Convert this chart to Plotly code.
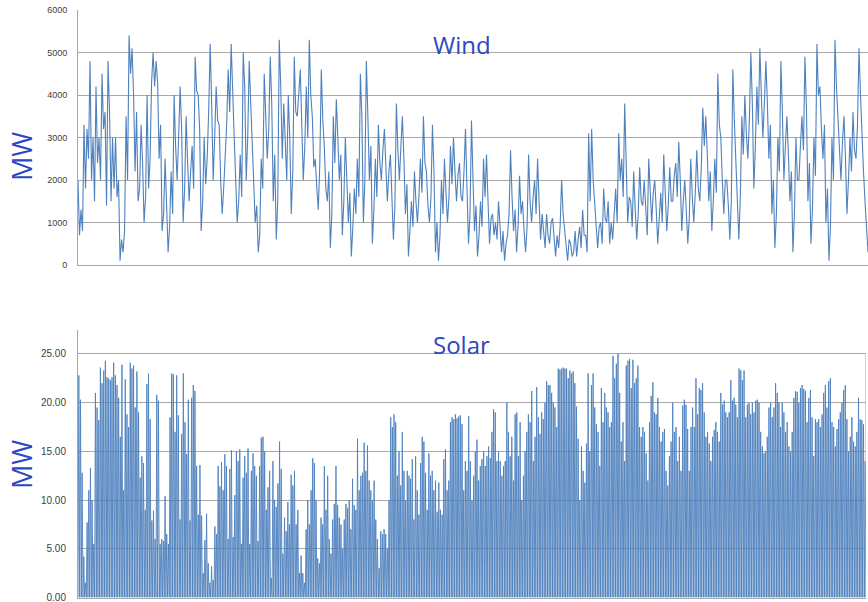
import numpy as np
import plotly.graph_objects as go

# ---------------- data ----------------
# Wind output, MW, successive readings along the year (four consecutive stretches)
wind_part1 = [2000, 700, 1300, 800, 3300, 1800, 3200, 2500, 4800, 2000, 3000, 1500,
              4200, 2400, 3000, 2000, 4500, 3200, 3600, 1400, 4800, 3600, 1500, 3000,
              1800, 3000, 1600, 2000, 100, 600, 300, 800, 3500, 2000, 5400, 4500,
              5100, 4000, 2200, 3600, 1500, 1800, 3300, 2400, 1000, 1600, 4000, 1800,
              2500, 4300, 5000, 4200, 4800, 4300, 2500, 3300, 800, 1200, 2500, 1300,
              300, 900, 2200, 1200, 4000, 2800, 2000, 3000, 4200, 3200, 1000, 1800,
              3500, 2400, 1500, 2200, 2800, 1800, 4900, 4100, 4000, 3200, 800, 1500,
              3000, 1900, 2500, 3600, 5200, 3800, 2000, 3000, 4200, 3400, 3300, 2000,
              1200, 1800, 2500, 3300, 4600, 3600, 5200, 4300, 3000, 2000, 1000, 1500,
              2600, 1600, 5000, 4200, 2000, 3000, 4800, 3800, 3000, 1800, 1000, 1400,
              300, 700, 2500, 1800, 4500, 3500]
wind_part2 = [2500, 3200, 4900, 3800, 1500, 2600, 600, 1500, 5300, 4200, 2500, 3800,
              3000, 2000, 4000, 3000, 1200, 2200, 4900, 3600, 3500, 4200, 4600, 3300,
              2000, 2800, 4200, 3000, 5300, 4000, 3500, 2300, 2500, 1800, 1300, 2400,
              4600, 3400, 2800, 1800, 1500, 2200, 400, 1200, 3500, 2400, 3900, 3000,
              2000, 2600, 700, 1500, 3000, 2000, 1000, 1700, 200, 900, 1800, 1200,
              2500, 1600, 4500, 3500, 1000, 2000, 4800, 3500, 2000, 2800, 500, 1300,
              2500, 1600, 3300, 2400, 2000, 2700, 3200, 2300, 1500, 2200, 2600, 1600,
              600, 1400, 3800, 2700, 2000, 2800, 3500, 2500, 1200, 1900, 200, 800,
              1500, 900, 2200, 1500, 1000, 1600, 2500, 1700, 3500, 2400, 2200, 1400,
              1000, 1600, 3300, 2200, 300, 1000, 100, 700, 2000, 1200, 2500, 1700,
              1000, 1600, 2800, 1900, 3000, 2200, 1500, 2100, 2400, 1600]
wind_part3 = [1500, 2200, 3200, 1800, 500, 1200, 3400, 2000, 800, 1400, 200, 700,
              1500, 900, 2500, 1600, 2600, 1500, 500, 1100, 1200, 700, 1000, 600,
              1500, 900, 300, 800, 100, 500, 700, 1200, 2700, 1600, 800, 1300,
              300, 900, 2100, 1200, 1500, 800, 300, 900, 2600, 1500, 1000, 1600,
              2000, 1200, 2500, 1500, 600, 1200, 800, 400, 1200, 700, 500, 1000,
              1100, 600, 200, 700, 400, 900, 2000, 1200, 800, 300, 100, 600,
              500, 200, 300, 800, 200, 600, 900, 400, 1300, 700, 700, 300,
              3100, 1500, 3200, 2000, 1500, 800, 400, 900, 1000, 500, 1800, 1100,
              1000, 1500, 500, 1000, 600, 1200, 1800, 1000, 3100, 2000, 2500, 1600,
              3800, 2400, 1000, 1600, 1500, 900, 2200, 1300, 600, 1200, 2300, 1500,
              1400, 2000, 1200, 700, 2500, 1600, 1000, 1700, 2000, 1300, 500, 1100,
              1700, 1000]
wind_part4 = [2600, 1700, 800, 1400, 2300, 1500, 1500, 2100, 2400, 1600, 2900, 2000,
              800, 1500, 2000, 1300, 500, 1100, 2500, 1600, 1000, 1700, 2700, 1800,
              1500, 2300, 3700, 2800, 3500, 2600, 1500, 2200, 800, 1500, 2500, 1700,
              4500, 3300, 3000, 2000, 1200, 2000, 2000, 1400, 600, 1500, 4600, 3400,
              2500, 1500, 600, 1600, 3500, 2600, 4000, 3100, 2500, 3400, 5000, 3800,
              1800, 2800, 4200, 3300, 5100, 4000, 3000, 3800, 4800, 3800, 2500, 3300,
              1200, 2000, 400, 1200, 3000, 2200, 4800, 3600, 2000, 2800, 3500, 2600,
              1500, 2200, 300, 1200, 3000, 2000, 2000, 2800, 3500, 2700, 4900, 3700,
              1500, 2400, 500, 1300, 3000, 2100, 5200, 4000, 4200, 3200, 2500, 3300,
              1000, 1800, 100, 900, 3000, 2000, 5300, 4200, 3500, 2600, 2000, 2900,
              3500, 2500, 1200, 2000, 3000, 2200, 3600, 2700, 2500, 3300, 5100, 4000,
              3000, 2200, 1500, 800, 300]

# Solar: daily peak output, MW (night output is zero)
solar_part1 = [22.8, 20.3, 12.8, 4.2, 1.5, 7.7, 11, 13.3, 10, 5.5, 21, 19.5, 18.2,
               23.6, 22, 23.3, 24.3, 22.6, 22.5, 22.3, 22.6, 24.1, 22.8, 21.8, 20.5,
               16.5, 23.9, 11, 22.4, 18.8, 17.5, 24.1, 23.5, 23.8, 19.5, 23.2, 19,
               12.3, 14.5, 13.8, 9, 21.9, 23, 18.3, 7.9, 8.9, 6, 20.8, 20.2, 5.5, 6,
               5.8, 10.4, 6.5, 5.5, 18.5, 23, 22.9, 17, 22.8, 18.7, 8, 16.8, 23, 18,
               14.7, 20.3, 7.9, 20.5, 21.8, 21.2, 13.5, 8.5, 13.6, 8.4, 2.5, 5.9, 8.6,
               3.5, 1.5, 3.2, 1.8, 7.3, 6.5, 13.5, 11.4, 13.9, 11, 14.7, 13.5, 6,
               13.2, 15.1, 6.2, 10.5, 15, 14, 15.2, 5.5, 12.3, 14.5, 12.8, 15.3, 5.5,
               13, 14.8, 13.5, 12.5, 5.8, 13.5, 16.4, 16.5, 15, 9, 11.3, 13, 2, 14,
               10, 9.3, 11.7, 16, 13.2, 4.5, 8.2, 6.8, 9.8, 7.5, 12.6, 11.5, 13, 7.5,
               9, 2.5, 4.3]
solar_part2 = [2.5, 1.5, 7, 10, 7.5, 11, 14.3, 13.8, 10, 4, 3.5, 8.2, 7.5, 13.5, 9,
               12.5, 6, 4.5, 8, 9.6, 13.5, 9.5, 8.2, 7.5, 5, 8, 9.6, 9.2, 10, 7,
               12.2, 9.5, 9, 16.3, 11, 12.5, 12.8, 15.9, 13, 15.6, 12, 11, 10, 12, 8,
               6, 3, 6.8, 6.5, 7, 6.5, 5, 10, 18.5, 17.5, 18.8, 18, 12.5, 15, 11.5,
               17, 13, 10, 13, 12.5, 12.2, 14.2, 8, 14.5, 11, 8.5, 13.8, 16.5, 16,
               12.8, 9, 14.8, 12.5, 13, 11, 12, 8.8, 11.8, 9, 8.5, 14.2, 15.2, 11, 12,
               18, 18.5, 18.3, 18.8, 18.4, 18.6, 18.7, 17.8, 11, 14, 13, 18.6, 14, 10,
               12.5, 15, 16.2, 12, 13.5, 14.2, 15, 13.5, 14.5, 15.5, 14.3, 17, 19.3,
               19, 14, 15, 14, 12.5, 13.5, 14, 20, 17, 14.5, 16.5, 12, 18.8, 19, 14.5,
               18, 10, 12.5, 15, 17, 18.8, 18, 21.2, 14, 16.5, 21.6, 18.5, 16.8, 19,
               18.3, 20, 22.2, 21.8, 21.8, 21, 20, 19.5, 17.5, 23.5, 23.4, 23.5, 23.6,
               23.5, 23.5, 22.5, 23.3, 23, 23.2, 22, 19.6, 16.3, 10]
solar_part3 = [15.5, 13, 11.8, 15.8, 23, 15, 21.8, 23, 19.5, 17.8, 17, 13.5, 21.5,
               18, 21, 19.5, 19, 17.5, 18, 24.8, 22.5, 24, 25, 21, 16, 18, 14, 23.8,
               24.3, 24.5, 21.5, 24.4, 22, 22.5, 23.8, 17.5, 16.5, 17.5, 17, 14.8, 12,
               18, 20.7, 22.1, 19, 18.8, 20.5, 17.5, 16, 17, 17.3, 13, 11.5, 14.5, 16,
               20, 17, 17.5, 14, 16.5, 13, 19.7, 20.3, 19.8, 17.3, 13, 17.5, 19.5,
               17.5, 22.5, 18.8, 21.5, 21.3, 22, 19, 16.5, 17, 15.8, 14, 16.5, 17.2,
               18, 17, 16, 21, 19.8, 20.2, 19, 18.5, 19, 22.3, 20.2, 20.5, 19.8, 18.5,
               23.5, 23.3, 22.3, 23.3, 18.5, 19.8, 20, 18.8, 20, 19, 20.2, 20.3, 20,
               17, 15.5, 14.8, 15, 16.5, 19.5, 20, 18.5, 19.5, 22, 21, 20, 17.5, 20,
               19, 17, 18, 15.5, 15, 17, 20.5, 21.2, 21.1, 20, 21.5, 21.8, 21.4, 21.2,
               18, 20.5, 21.3, 18.5, 14.5, 18.3, 18, 18.3, 17.5, 18.8, 21, 21.8, 19.5,
               22.2, 22.5, 18, 17.5, 15.5, 17.3, 18.3, 19, 20, 21.3, 21.8, 18.3, 15,
               16.5, 18.5, 16, 15.5, 17, 20.5, 18.3, 18.2, 17.8, 14]

wind_ticks = [0, 1000, 2000, 3000, 4000, 5000, 6000]
solar_ticks = [0, 5, 10, 15, 20, 25]

# ---------------- build ----------------
W, H = 868, 602
HOURS = 8760
wind_mw = wind_part1 + wind_part2 + wind_part3 + wind_part4
wind_hour = np.linspace(0, HOURS, len(wind_mw))

solar_peak = solar_part1 + solar_part2 + solar_part3
n = len(solar_peak)
solar_mw = np.zeros(2 * n + 1)
solar_mw[1::2] = solar_peak
solar_hour = np.linspace(0, HOURS, 2 * n + 1)

BLUE = "#4f81bd"
GRID = "#a8a8a8"
TXT = "#2a48c4"

def px(x):
    return x / W

def py(y):
    return 1 - y / H

fig = go.Figure()
fig.add_trace(go.Scatter(x=wind_hour, y=wind_mw, mode="lines",
                         line=dict(color=BLUE, width=1.1), xaxis="x", yaxis="y",
                         showlegend=False, hoverinfo="skip"))
fig.add_trace(go.Scatter(x=solar_hour, y=solar_mw, mode="lines",
                         line=dict(color=BLUE, width=0.9), xaxis="x2", yaxis="y2",
                         showlegend=False, hoverinfo="skip"))

axis_common = dict(showgrid=False, zeroline=False, showticklabels=False,
                   showline=True, linecolor=GRID, linewidth=1, ticks="",
                   automargin=False)
label = dict(xref="paper", yref="paper", showarrow=False,
             xanchor="center", yanchor="middle")
fig.update_layout(
    width=W, height=H, margin=dict(l=0, r=0, t=0, b=0, autoexpand=False),
    paper_bgcolor="white", plot_bgcolor="white",
    xaxis=dict(domain=[px(78), 1.0], range=[0, HOURS], anchor="y", **axis_common),
    yaxis=dict(domain=[py(265), py(10)], range=[0, 6000], tickvals=wind_ticks,
               showgrid=True, gridcolor=GRID, gridwidth=1, zeroline=False,
               showline=True, linecolor=GRID, anchor="x", automargin=False,
               tickfont=dict(family="Liberation Sans", size=9, color="#404040"),
               ticklabelstandoff=8, ticklabeloverflow="allow"),
    xaxis2=dict(domain=[px(78), px(866)], range=[0, HOURS], anchor="y2", **axis_common),
    yaxis2=dict(domain=[py(597.5), py(329.6)], range=[0, 27.5], tickvals=solar_ticks,
                tickformat=".2f",
                showgrid=True, gridcolor=GRID, gridwidth=1, zeroline=False,
                showline=True, linecolor=GRID, anchor="x2", automargin=False,
                tickfont=dict(family="Liberation Sans", size=10, color="#404040"),
                ticklabelstandoff=9, ticklabeloverflow="allow"),
    shapes=[dict(type="line", xref="x2", yref="y2", x0=HOURS, x1=HOURS, y0=0, y1=25,
                 line=dict(color=GRID, width=1))],
    annotations=[
        dict(text="Wind", x=px(462), y=py(44),
             font=dict(family="Open Sans", size=24, color=TXT), **label),
        dict(text="Solar", x=px(461), y=py(344),
             font=dict(family="Open Sans", size=24, color=TXT), **label),
        dict(text="MW", x=px(21), y=py(157), textangle=-90,
             font=dict(family="Open Sans", size=27, color=TXT), **label),
        dict(text="MW", x=px(21), y=py(465), textangle=-90,
             font=dict(family="Open Sans", size=27, color=TXT), **label),
    ],
)

fig.write_html("out.html", config={"displayModeBar": False},
               post_script="document.body.style.margin='0';"
                           "document.body.style.overflow='hidden';")
